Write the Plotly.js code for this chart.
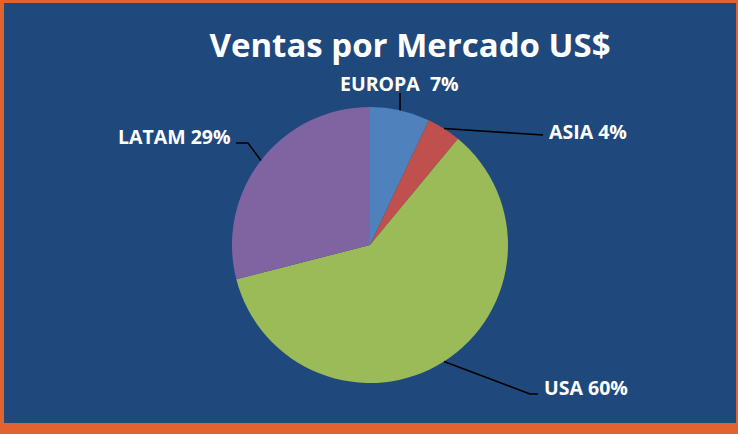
<!DOCTYPE html>
<html>
<head>
<meta charset="utf-8">
<script src="https://cdn.plot.ly/plotly-3.0.1.min.js"></script>
<style>html,body{margin:0;padding:0;background:#E2632F;}#chart{width:738px;height:434px;}</style>
</head>
<body>
<div id="chart"></div>
<script>
// ---- data ----
const categories = ['EUROPA', 'ASIA', 'USA', 'LATAM'];
const values = [7, 4, 60, 29];
const labelTexts = ['EUROPA  7%', 'ASIA 4%', 'USA 60%', 'LATAM 29%'];
const sliceColors = ['#4F81BD', '#C0504D', '#9BBB59', '#8064A2'];

// ---- layout constants (pixels) ----
const W = 738, H = 434;
const cx = 370, cy = 245, R = 138;
// label placement: text position + leader route (elbow/end), in pixels
const labelLayout = [
  {tx: 399, ty: 83, anchor: 'center', route: [[400, 93]]},
  {tx: 547, ty: 131, anchor: 'left', route: [[543, 135]]},
  {tx: 542, ty: 387, anchor: 'left', route: [[530, 394], [538, 394]]},
  {tx: 233, ty: 136, anchor: 'right', route: [[248, 143], [236, 143]]}
];

const px = x => x / W;
const py = y => 1 - y / H;

const total = values.reduce((a, b) => a + b, 0);
let cum = 0;
const shapes = [{
  type: 'rect', xref: 'paper', yref: 'paper',
  x0: px(4), x1: px(736), y0: py(423), y1: py(3),
  fillcolor: '#1F497D', line: {width: 0}, layer: 'below'
}];
const annotations = [];
values.forEach((v, i) => {
  const mid = (cum + v / 2) / total * 2 * Math.PI;
  cum += v;
  const ax = cx + R * Math.sin(mid), ay = cy - R * Math.cos(mid);
  const pts = [[ax, ay]].concat(labelLayout[i].route);
  const path = pts.map((p, k) => (k ? 'L' : 'M') + px(p[0]).toFixed(4) + ',' + py(p[1]).toFixed(4)).join(' ');
  shapes.push({type: 'path', xref: 'paper', yref: 'paper', path: path, line: {color: '#000000', width: 1.6}});
  annotations.push({
    xref: 'paper', yref: 'paper', x: px(labelLayout[i].tx), y: py(labelLayout[i].ty),
    xanchor: labelLayout[i].anchor, yanchor: 'middle', showarrow: false,
    text: '<b>' + labelTexts[i] + '</b>',
    font: {family: 'Open Sans, sans-serif', size: 19.5, color: '#FFFFFF'}
  });
});

const trace = {
  type: 'pie', labels: categories, values: values, sort: false,
  direction: 'clockwise', rotation: 0, textinfo: 'none', hoverinfo: 'label+percent',
  marker: {colors: sliceColors, line: {width: 0}},
  domain: {x: [px(cx - R), px(cx + R)], y: [py(cy + R), py(cy - R)]},
  showlegend: false
};

const layout = {
  width: W, height: H, margin: {l: 0, r: 0, t: 0, b: 0},
  paper_bgcolor: '#E2632F', plot_bgcolor: 'rgba(0,0,0,0)',
  title: {text: '<b>Ventas por Mercado US$</b>', x: 410 / W, xanchor: 'center', y: 1 - 45 / H, yanchor: 'middle',
    font: {family: 'Open Sans, sans-serif', size: 33, color: '#FFFFFF'}},
  shapes: shapes, annotations: annotations, showlegend: false
};
Plotly.newPlot('chart', [trace], layout, {displayModeBar: false, staticPlot: true});
</script>
</body>
</html>
